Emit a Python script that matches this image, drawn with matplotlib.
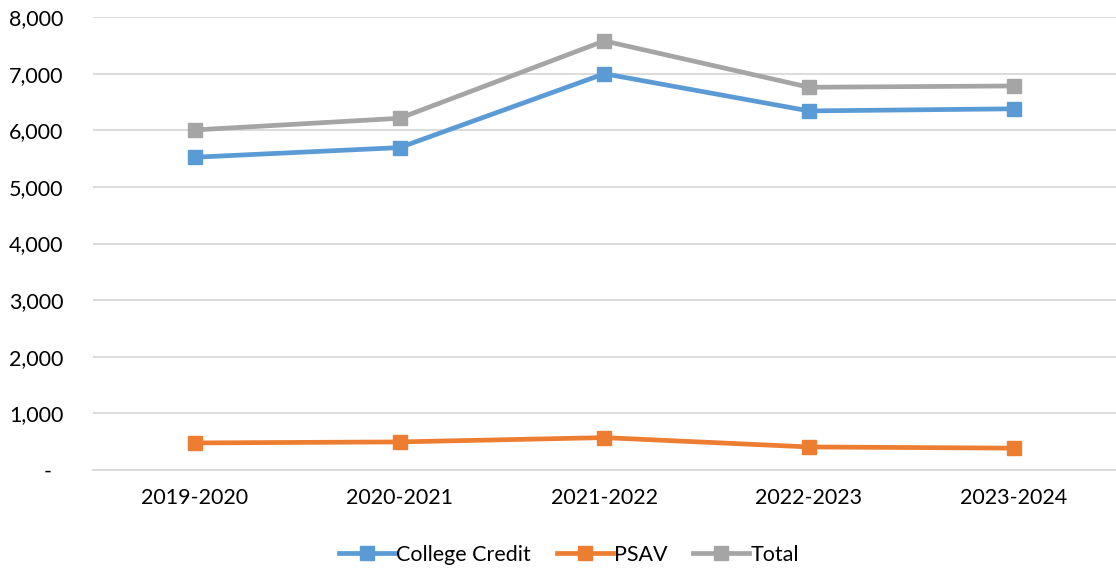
import matplotlib.pyplot as plt
from matplotlib.ticker import FuncFormatter

# donnees
annees = ["2019-2020", "2020-2021", "2021-2022", "2022-2023", "2023-2024"]
college_credit = [5525, 5695, 7000, 6343, 6380]
psav = [477, 495, 571, 406, 385]
total = [6007, 6213, 7580, 6761, 6784]

plt.rcParams['font.family'] = ['Lato', 'DejaVu Sans']

fig = plt.figure(figsize=(11.16, 5.71), dpi=100)
ax = fig.add_axes([0.083, 0.177, 0.917, 0.793])

x = range(len(annees))
ax.plot(x, college_credit, color="#5B9BD5", lw=3.4, marker="s", ms=10, label="College Credit")
ax.plot(x, psav, color="#ED7D31", lw=3.4, marker="s", ms=10, label="PSAV")
ax.plot(x, total, color="#A5A5A5", lw=3.4, marker="s", ms=10, label="Total")

ax.set_xlim(-0.5, 4.5)
ax.set_ylim(0, 8000)
ax.set_yticks(range(0, 8001, 1000))
# format comptable : le zero s'affiche en tiret
ax.yaxis.set_major_formatter(FuncFormatter(lambda v, p: "-  " if v == 0 else f"{int(v):,}"))
ax.set_xticks(list(x))
ax.set_xticklabels(annees)
ax.tick_params(length=0, labelsize=15.5, colors="#000000")
ax.tick_params(axis="x", pad=13)
ax.tick_params(axis="y", pad=21)
ax.grid(axis="y", color="#D9D9D9", lw=1.3)
ax.set_axisbelow(True)
for s in ["top", "right", "left"]:
    ax.spines[s].set_visible(False)
ax.spines["bottom"].set_color("#D9D9D9")
ax.spines["bottom"].set_linewidth(1.3)

fig.legend(loc="center", bbox_to_anchor=(0.51, 0.028), ncol=3, frameon=False,
           fontsize=15.5, handlelength=2.6, handletextpad=0.05, columnspacing=1.2)

fig.savefig("out.png")
